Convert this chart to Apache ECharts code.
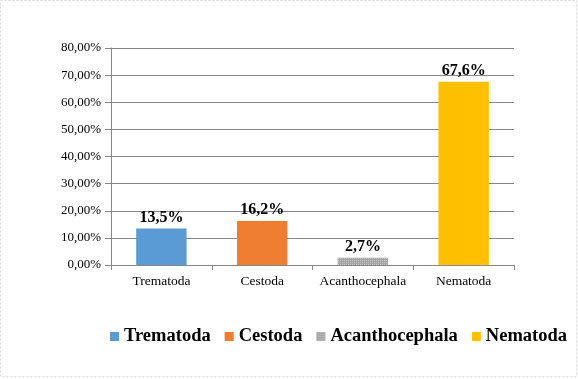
<!DOCTYPE html>
<html><head><meta charset="utf-8">
<script src="https://cdn.jsdelivr.net/npm/echarts@6/dist/echarts.min.js"></script>
<style>html,body{margin:0;padding:0;background:#fff}#c{width:578px;height:379px}</style>
</head><body><div id="c"></div>
<script>
var categories = ['Trematoda', 'Cestoda', 'Acanthocephala', 'Nematoda'];
var values = [13.5, 16.2, 2.7, 67.6];
var colors = ['#5b9bd5', '#ed7d31', '#a5a5a5', '#ffc000'];
var yTicks = {min: 0, max: 80, interval: 10};

var font = '"Liberation Serif", "Times New Roman", serif';
var series = categories.map(function (name, i) {
  var d = categories.map(function (_, j) { return j === i ? values[i] : '-'; });
  var s = {
    name: name, type: 'bar', stack: 'all', data: d, barWidth: '50%',
    itemStyle: { color: colors[i] },
    label: {
      show: true, position: 'top', distance: 3,
      fontFamily: font, fontWeight: 'bold', fontSize: 16, color: '#000',
      formatter: function (p) { return p.value.toFixed(1).replace('.', ',') + '%'; }
    }
  };
  if (i === 2) {
    s.itemStyle.decal = { symbol: 'rect', symbolSize: 1, dashArrayX: [1, 1], dashArrayY: [1, 1], color: 'rgba(255,255,255,0.35)' };
  }
  return s;
});

var chart = echarts.init(document.getElementById('c'));
chart.setOption({
  animation: false,
  grid: { left: 111, right: 64, top: 48, bottom: 114 },
  legend: {
    top: 322, left: 105, itemWidth: 9, itemHeight: 9, itemGap: 14,
    icon: 'rect',
    textStyle: { fontFamily: font, fontWeight: 'bold', fontSize: 18.5, color: '#000' },
    data: categories
  },
  xAxis: {
    type: 'category', data: categories,
    axisLine: { lineStyle: { color: '#868686' } },
    axisTick: { show: true, length: 5, lineStyle: { color: '#868686' } },
    axisLabel: { interval: 0, fontFamily: font, fontSize: 13.5, color: '#000', margin: 9 }
  },
  yAxis: {
    type: 'value', min: yTicks.min, max: yTicks.max, interval: yTicks.interval,
    axisLine: { show: true, lineStyle: { color: '#868686' } },
    axisTick: { show: true, length: 6, lineStyle: { color: '#868686' } },
    splitLine: { lineStyle: { color: '#868686' } },
    axisLabel: { fontFamily: font, fontSize: 13, color: '#000', margin: 10,
      formatter: function (v) { return v.toFixed(2).replace('.', ',') + '%'; } }
  },
  graphic: [{
    type: 'rect', shape: { x: 0.5, y: 0.5, width: 576, height: 376 },
    style: { fill: 'none', stroke: '#d9d9d9', lineWidth: 1, lineDash: [2, 2] }, silent: true
  }],
  series: series
});
</script></body></html>
